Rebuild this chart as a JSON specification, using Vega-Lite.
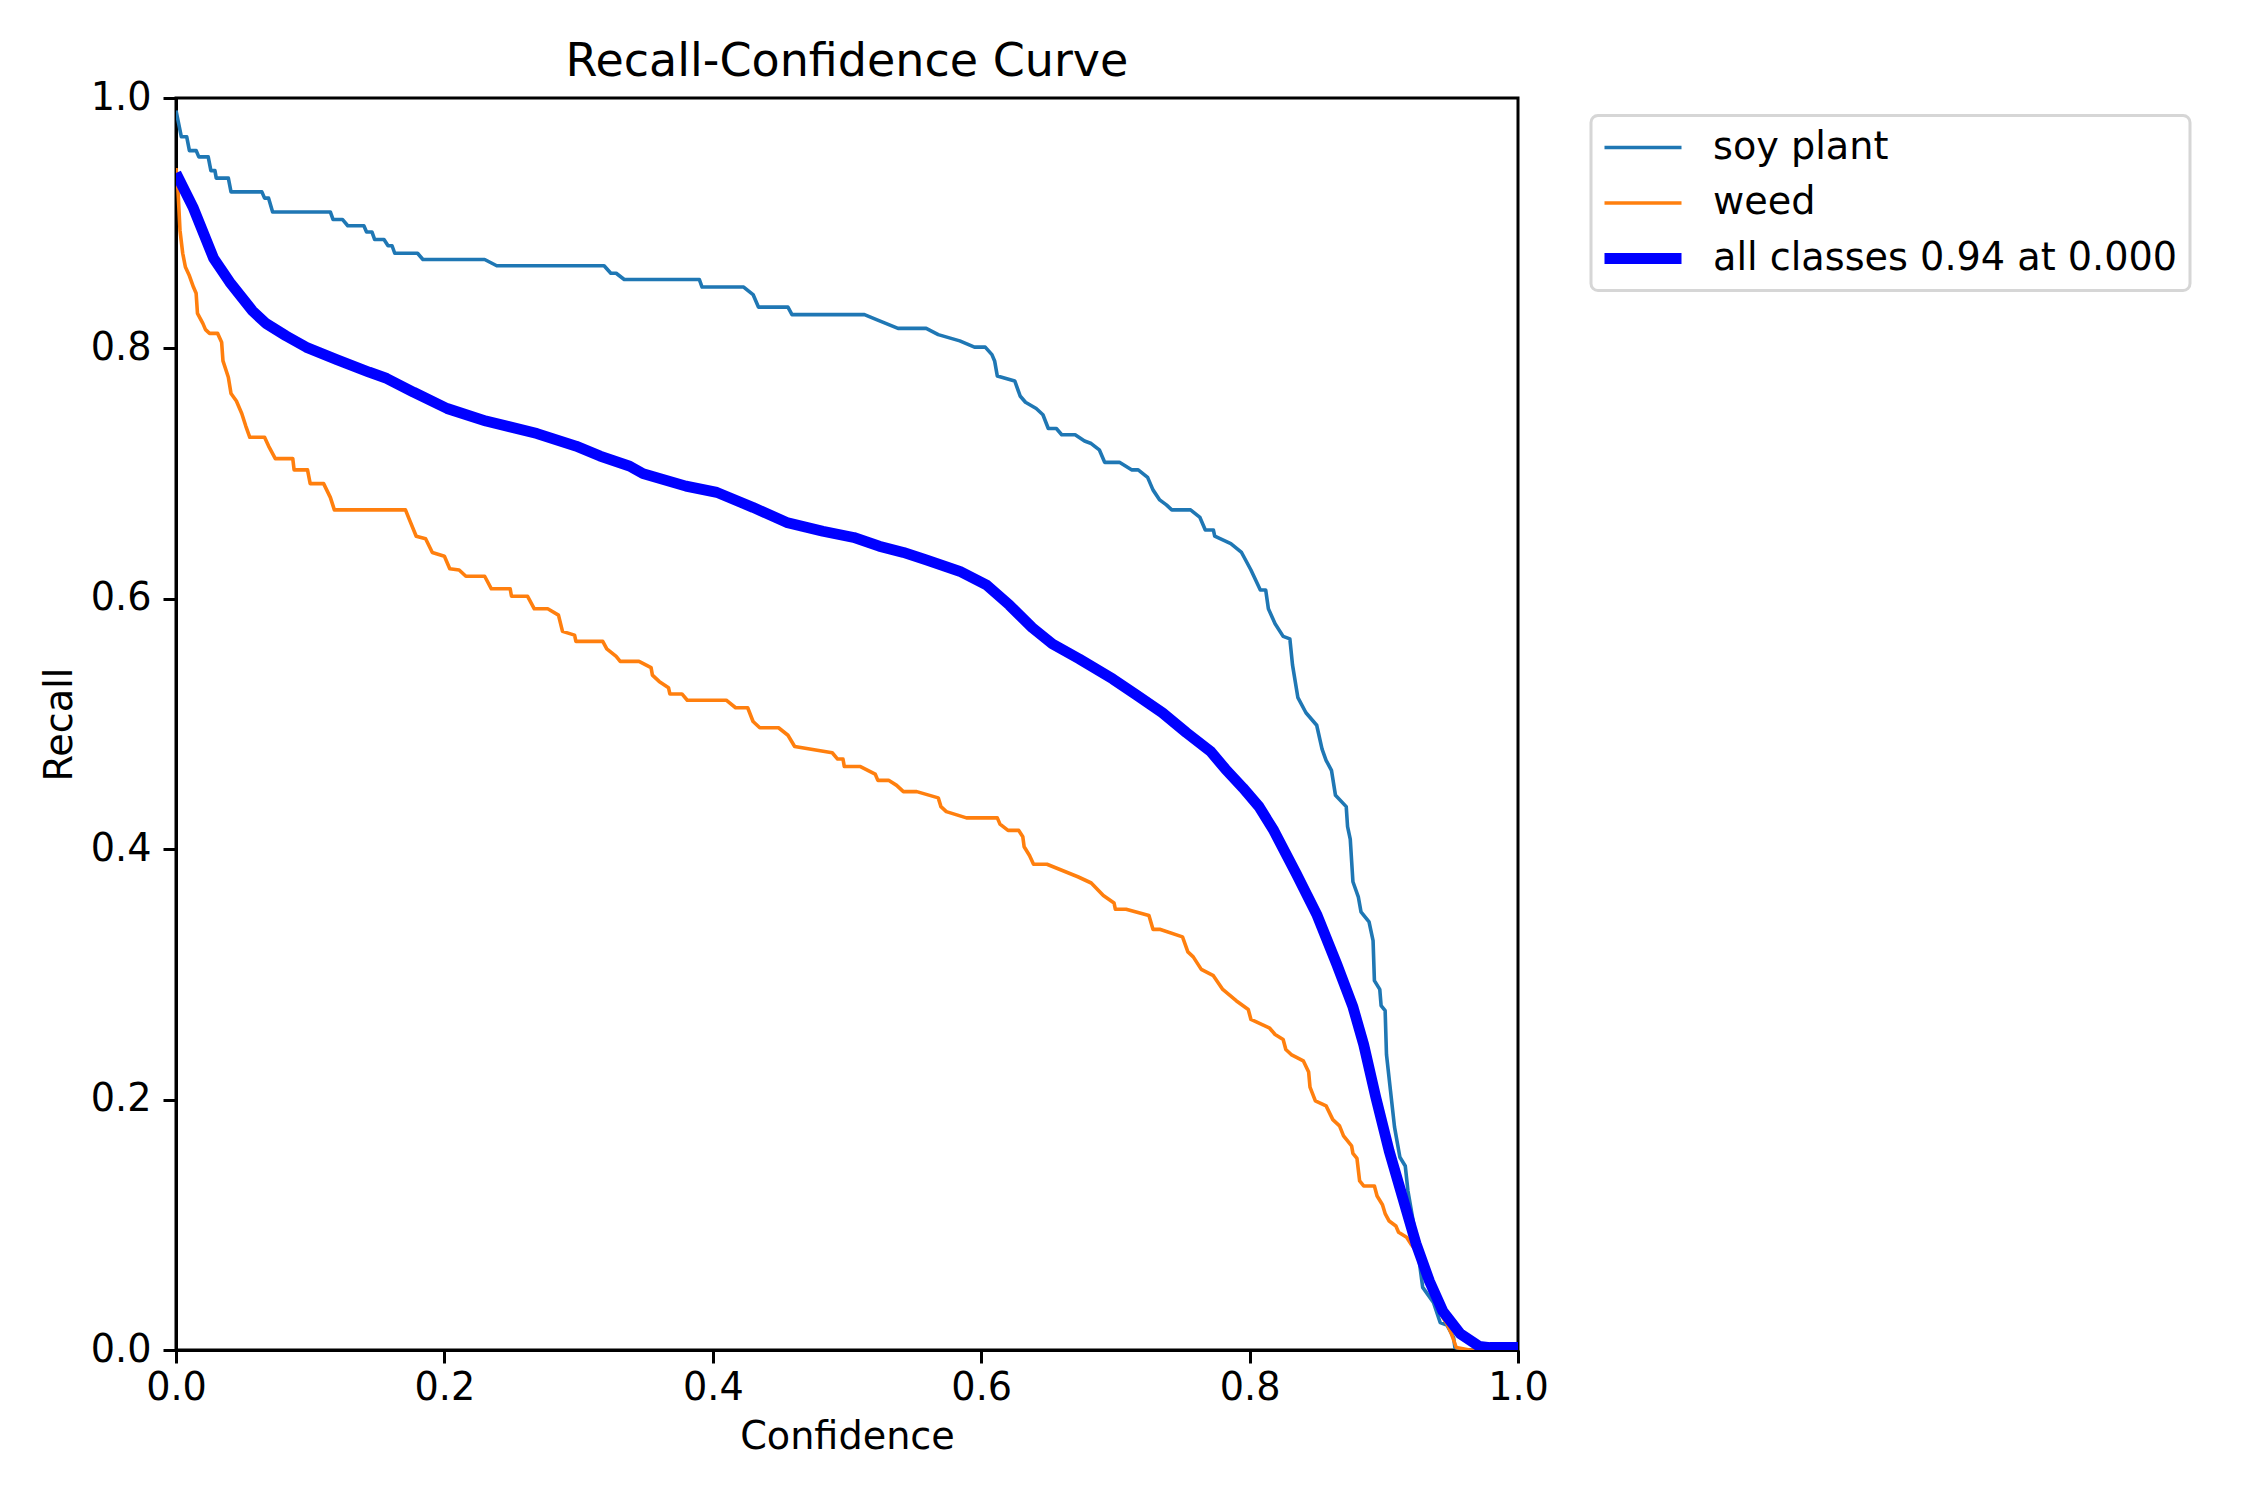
{
  "$schema": "https://vega.github.io/schema/vega-lite/v6.json",
  "width": 1342,
  "height": 1252,
  "autosize": {"type": "none"},
  "padding": {"left": 176, "top": 98, "right": 732, "bottom": 150},
  "background": "white",
  "title": {
    "text": "Recall-Confidence Curve",
    "font": "DejaVu Sans",
    "fontSize": 46,
    "fontWeight": "normal",
    "color": "black",
    "anchor": "middle",
    "baseline": "alphabetic",
    "offset": -44
  },
  "datasets": {
    "curves": [
      {"class": "soy plant", "conf": 0.000, "recall": 0.990},
      {"class": "soy plant", "conf": 0.004, "recall": 0.969},
      {"class": "soy plant", "conf": 0.008, "recall": 0.969},
      {"class": "soy plant", "conf": 0.010, "recall": 0.958},
      {"class": "soy plant", "conf": 0.015, "recall": 0.958},
      {"class": "soy plant", "conf": 0.017, "recall": 0.953},
      {"class": "soy plant", "conf": 0.024, "recall": 0.953},
      {"class": "soy plant", "conf": 0.026, "recall": 0.942},
      {"class": "soy plant", "conf": 0.029, "recall": 0.942},
      {"class": "soy plant", "conf": 0.030, "recall": 0.936},
      {"class": "soy plant", "conf": 0.039, "recall": 0.936},
      {"class": "soy plant", "conf": 0.041, "recall": 0.925},
      {"class": "soy plant", "conf": 0.064, "recall": 0.925},
      {"class": "soy plant", "conf": 0.066, "recall": 0.920},
      {"class": "soy plant", "conf": 0.069, "recall": 0.920},
      {"class": "soy plant", "conf": 0.072, "recall": 0.909},
      {"class": "soy plant", "conf": 0.115, "recall": 0.909},
      {"class": "soy plant", "conf": 0.117, "recall": 0.903},
      {"class": "soy plant", "conf": 0.124, "recall": 0.903},
      {"class": "soy plant", "conf": 0.128, "recall": 0.898},
      {"class": "soy plant", "conf": 0.140, "recall": 0.898},
      {"class": "soy plant", "conf": 0.142, "recall": 0.893},
      {"class": "soy plant", "conf": 0.146, "recall": 0.893},
      {"class": "soy plant", "conf": 0.148, "recall": 0.887},
      {"class": "soy plant", "conf": 0.155, "recall": 0.887},
      {"class": "soy plant", "conf": 0.158, "recall": 0.882},
      {"class": "soy plant", "conf": 0.161, "recall": 0.882},
      {"class": "soy plant", "conf": 0.163, "recall": 0.876},
      {"class": "soy plant", "conf": 0.180, "recall": 0.876},
      {"class": "soy plant", "conf": 0.184, "recall": 0.871},
      {"class": "soy plant", "conf": 0.230, "recall": 0.871},
      {"class": "soy plant", "conf": 0.239, "recall": 0.866},
      {"class": "soy plant", "conf": 0.319, "recall": 0.866},
      {"class": "soy plant", "conf": 0.324, "recall": 0.860},
      {"class": "soy plant", "conf": 0.328, "recall": 0.860},
      {"class": "soy plant", "conf": 0.334, "recall": 0.855},
      {"class": "soy plant", "conf": 0.390, "recall": 0.855},
      {"class": "soy plant", "conf": 0.392, "recall": 0.849},
      {"class": "soy plant", "conf": 0.423, "recall": 0.849},
      {"class": "soy plant", "conf": 0.430, "recall": 0.843},
      {"class": "soy plant", "conf": 0.434, "recall": 0.833},
      {"class": "soy plant", "conf": 0.456, "recall": 0.833},
      {"class": "soy plant", "conf": 0.459, "recall": 0.827},
      {"class": "soy plant", "conf": 0.513, "recall": 0.827},
      {"class": "soy plant", "conf": 0.522, "recall": 0.823},
      {"class": "soy plant", "conf": 0.538, "recall": 0.816},
      {"class": "soy plant", "conf": 0.559, "recall": 0.816},
      {"class": "soy plant", "conf": 0.568, "recall": 0.811},
      {"class": "soy plant", "conf": 0.584, "recall": 0.806},
      {"class": "soy plant", "conf": 0.595, "recall": 0.801},
      {"class": "soy plant", "conf": 0.603, "recall": 0.801},
      {"class": "soy plant", "conf": 0.608, "recall": 0.795},
      {"class": "soy plant", "conf": 0.610, "recall": 0.790},
      {"class": "soy plant", "conf": 0.612, "recall": 0.778},
      {"class": "soy plant", "conf": 0.625, "recall": 0.774},
      {"class": "soy plant", "conf": 0.629, "recall": 0.762},
      {"class": "soy plant", "conf": 0.633, "recall": 0.757},
      {"class": "soy plant", "conf": 0.641, "recall": 0.752},
      {"class": "soy plant", "conf": 0.646, "recall": 0.747},
      {"class": "soy plant", "conf": 0.650, "recall": 0.736},
      {"class": "soy plant", "conf": 0.656, "recall": 0.736},
      {"class": "soy plant", "conf": 0.660, "recall": 0.731},
      {"class": "soy plant", "conf": 0.670, "recall": 0.731},
      {"class": "soy plant", "conf": 0.677, "recall": 0.726},
      {"class": "soy plant", "conf": 0.682, "recall": 0.724},
      {"class": "soy plant", "conf": 0.688, "recall": 0.719},
      {"class": "soy plant", "conf": 0.692, "recall": 0.709},
      {"class": "soy plant", "conf": 0.703, "recall": 0.709},
      {"class": "soy plant", "conf": 0.712, "recall": 0.703},
      {"class": "soy plant", "conf": 0.717, "recall": 0.703},
      {"class": "soy plant", "conf": 0.724, "recall": 0.697},
      {"class": "soy plant", "conf": 0.728, "recall": 0.687},
      {"class": "soy plant", "conf": 0.733, "recall": 0.679},
      {"class": "soy plant", "conf": 0.738, "recall": 0.675},
      {"class": "soy plant", "conf": 0.742, "recall": 0.671},
      {"class": "soy plant", "conf": 0.756, "recall": 0.671},
      {"class": "soy plant", "conf": 0.763, "recall": 0.665},
      {"class": "soy plant", "conf": 0.767, "recall": 0.655},
      {"class": "soy plant", "conf": 0.773, "recall": 0.655},
      {"class": "soy plant", "conf": 0.774, "recall": 0.650},
      {"class": "soy plant", "conf": 0.786, "recall": 0.644},
      {"class": "soy plant", "conf": 0.794, "recall": 0.637},
      {"class": "soy plant", "conf": 0.801, "recall": 0.623},
      {"class": "soy plant", "conf": 0.808, "recall": 0.607},
      {"class": "soy plant", "conf": 0.812, "recall": 0.607},
      {"class": "soy plant", "conf": 0.814, "recall": 0.592},
      {"class": "soy plant", "conf": 0.819, "recall": 0.580},
      {"class": "soy plant", "conf": 0.825, "recall": 0.570},
      {"class": "soy plant", "conf": 0.830, "recall": 0.568},
      {"class": "soy plant", "conf": 0.832, "recall": 0.547},
      {"class": "soy plant", "conf": 0.836, "recall": 0.521},
      {"class": "soy plant", "conf": 0.842, "recall": 0.509},
      {"class": "soy plant", "conf": 0.850, "recall": 0.499},
      {"class": "soy plant", "conf": 0.854, "recall": 0.480},
      {"class": "soy plant", "conf": 0.857, "recall": 0.471},
      {"class": "soy plant", "conf": 0.861, "recall": 0.463},
      {"class": "soy plant", "conf": 0.864, "recall": 0.443},
      {"class": "soy plant", "conf": 0.872, "recall": 0.434},
      {"class": "soy plant", "conf": 0.873, "recall": 0.418},
      {"class": "soy plant", "conf": 0.875, "recall": 0.408},
      {"class": "soy plant", "conf": 0.877, "recall": 0.374},
      {"class": "soy plant", "conf": 0.881, "recall": 0.362},
      {"class": "soy plant", "conf": 0.883, "recall": 0.350},
      {"class": "soy plant", "conf": 0.889, "recall": 0.342},
      {"class": "soy plant", "conf": 0.892, "recall": 0.327},
      {"class": "soy plant", "conf": 0.893, "recall": 0.295},
      {"class": "soy plant", "conf": 0.897, "recall": 0.288},
      {"class": "soy plant", "conf": 0.898, "recall": 0.275},
      {"class": "soy plant", "conf": 0.901, "recall": 0.271},
      {"class": "soy plant", "conf": 0.902, "recall": 0.236},
      {"class": "soy plant", "conf": 0.905, "recall": 0.207},
      {"class": "soy plant", "conf": 0.908, "recall": 0.178},
      {"class": "soy plant", "conf": 0.912, "recall": 0.154},
      {"class": "soy plant", "conf": 0.916, "recall": 0.147},
      {"class": "soy plant", "conf": 0.918, "recall": 0.127},
      {"class": "soy plant", "conf": 0.924, "recall": 0.090},
      {"class": "soy plant", "conf": 0.927, "recall": 0.066},
      {"class": "soy plant", "conf": 0.929, "recall": 0.050},
      {"class": "soy plant", "conf": 0.931, "recall": 0.047},
      {"class": "soy plant", "conf": 0.937, "recall": 0.038},
      {"class": "soy plant", "conf": 0.942, "recall": 0.022},
      {"class": "soy plant", "conf": 0.947, "recall": 0.020},
      {"class": "soy plant", "conf": 0.952, "recall": 0.010},
      {"class": "soy plant", "conf": 0.953, "recall": 0.002},
      {"class": "soy plant", "conf": 0.960, "recall": 0.000},
      {"class": "soy plant", "conf": 1.000, "recall": 0.000},
      {"class": "weed", "conf": 0.000, "recall": 0.944},
      {"class": "weed", "conf": 0.0015, "recall": 0.926},
      {"class": "weed", "conf": 0.003, "recall": 0.894},
      {"class": "weed", "conf": 0.005, "recall": 0.876},
      {"class": "weed", "conf": 0.007, "recall": 0.865},
      {"class": "weed", "conf": 0.010, "recall": 0.858},
      {"class": "weed", "conf": 0.013, "recall": 0.849},
      {"class": "weed", "conf": 0.015, "recall": 0.844},
      {"class": "weed", "conf": 0.016, "recall": 0.828},
      {"class": "weed", "conf": 0.020, "recall": 0.820},
      {"class": "weed", "conf": 0.022, "recall": 0.815},
      {"class": "weed", "conf": 0.025, "recall": 0.812},
      {"class": "weed", "conf": 0.031, "recall": 0.812},
      {"class": "weed", "conf": 0.034, "recall": 0.805},
      {"class": "weed", "conf": 0.035, "recall": 0.790},
      {"class": "weed", "conf": 0.039, "recall": 0.777},
      {"class": "weed", "conf": 0.041, "recall": 0.764},
      {"class": "weed", "conf": 0.045, "recall": 0.758},
      {"class": "weed", "conf": 0.049, "recall": 0.748},
      {"class": "weed", "conf": 0.052, "recall": 0.738},
      {"class": "weed", "conf": 0.055, "recall": 0.729},
      {"class": "weed", "conf": 0.066, "recall": 0.729},
      {"class": "weed", "conf": 0.069, "recall": 0.722},
      {"class": "weed", "conf": 0.074, "recall": 0.712},
      {"class": "weed", "conf": 0.087, "recall": 0.712},
      {"class": "weed", "conf": 0.088, "recall": 0.703},
      {"class": "weed", "conf": 0.098, "recall": 0.703},
      {"class": "weed", "conf": 0.100, "recall": 0.692},
      {"class": "weed", "conf": 0.110, "recall": 0.692},
      {"class": "weed", "conf": 0.115, "recall": 0.681},
      {"class": "weed", "conf": 0.118, "recall": 0.671},
      {"class": "weed", "conf": 0.171, "recall": 0.671},
      {"class": "weed", "conf": 0.174, "recall": 0.663},
      {"class": "weed", "conf": 0.179, "recall": 0.650},
      {"class": "weed", "conf": 0.186, "recall": 0.648},
      {"class": "weed", "conf": 0.191, "recall": 0.637},
      {"class": "weed", "conf": 0.200, "recall": 0.634},
      {"class": "weed", "conf": 0.204, "recall": 0.624},
      {"class": "weed", "conf": 0.211, "recall": 0.623},
      {"class": "weed", "conf": 0.216, "recall": 0.618},
      {"class": "weed", "conf": 0.230, "recall": 0.618},
      {"class": "weed", "conf": 0.235, "recall": 0.608},
      {"class": "weed", "conf": 0.249, "recall": 0.608},
      {"class": "weed", "conf": 0.250, "recall": 0.602},
      {"class": "weed", "conf": 0.262, "recall": 0.602},
      {"class": "weed", "conf": 0.267, "recall": 0.592},
      {"class": "weed", "conf": 0.277, "recall": 0.592},
      {"class": "weed", "conf": 0.285, "recall": 0.587},
      {"class": "weed", "conf": 0.288, "recall": 0.574},
      {"class": "weed", "conf": 0.297, "recall": 0.571},
      {"class": "weed", "conf": 0.298, "recall": 0.566},
      {"class": "weed", "conf": 0.318, "recall": 0.566},
      {"class": "weed", "conf": 0.321, "recall": 0.560},
      {"class": "weed", "conf": 0.328, "recall": 0.554},
      {"class": "weed", "conf": 0.331, "recall": 0.550},
      {"class": "weed", "conf": 0.345, "recall": 0.550},
      {"class": "weed", "conf": 0.354, "recall": 0.545},
      {"class": "weed", "conf": 0.355, "recall": 0.539},
      {"class": "weed", "conf": 0.360, "recall": 0.534},
      {"class": "weed", "conf": 0.367, "recall": 0.529},
      {"class": "weed", "conf": 0.368, "recall": 0.524},
      {"class": "weed", "conf": 0.377, "recall": 0.524},
      {"class": "weed", "conf": 0.381, "recall": 0.519},
      {"class": "weed", "conf": 0.410, "recall": 0.519},
      {"class": "weed", "conf": 0.417, "recall": 0.513},
      {"class": "weed", "conf": 0.426, "recall": 0.513},
      {"class": "weed", "conf": 0.430, "recall": 0.502},
      {"class": "weed", "conf": 0.435, "recall": 0.497},
      {"class": "weed", "conf": 0.449, "recall": 0.497},
      {"class": "weed", "conf": 0.456, "recall": 0.491},
      {"class": "weed", "conf": 0.461, "recall": 0.482},
      {"class": "weed", "conf": 0.489, "recall": 0.477},
      {"class": "weed", "conf": 0.493, "recall": 0.472},
      {"class": "weed", "conf": 0.497, "recall": 0.472},
      {"class": "weed", "conf": 0.498, "recall": 0.466},
      {"class": "weed", "conf": 0.510, "recall": 0.466},
      {"class": "weed", "conf": 0.521, "recall": 0.460},
      {"class": "weed", "conf": 0.523, "recall": 0.455},
      {"class": "weed", "conf": 0.531, "recall": 0.455},
      {"class": "weed", "conf": 0.537, "recall": 0.451},
      {"class": "weed", "conf": 0.542, "recall": 0.446},
      {"class": "weed", "conf": 0.552, "recall": 0.446},
      {"class": "weed", "conf": 0.568, "recall": 0.441},
      {"class": "weed", "conf": 0.570, "recall": 0.434},
      {"class": "weed", "conf": 0.574, "recall": 0.430},
      {"class": "weed", "conf": 0.589, "recall": 0.425},
      {"class": "weed", "conf": 0.612, "recall": 0.425},
      {"class": "weed", "conf": 0.614, "recall": 0.420},
      {"class": "weed", "conf": 0.620, "recall": 0.415},
      {"class": "weed", "conf": 0.628, "recall": 0.415},
      {"class": "weed", "conf": 0.631, "recall": 0.410},
      {"class": "weed", "conf": 0.632, "recall": 0.402},
      {"class": "weed", "conf": 0.636, "recall": 0.395},
      {"class": "weed", "conf": 0.639, "recall": 0.388},
      {"class": "weed", "conf": 0.649, "recall": 0.388},
      {"class": "weed", "conf": 0.672, "recall": 0.378},
      {"class": "weed", "conf": 0.682, "recall": 0.373},
      {"class": "weed", "conf": 0.691, "recall": 0.363},
      {"class": "weed", "conf": 0.699, "recall": 0.357},
      {"class": "weed", "conf": 0.700, "recall": 0.352},
      {"class": "weed", "conf": 0.708, "recall": 0.352},
      {"class": "weed", "conf": 0.725, "recall": 0.347},
      {"class": "weed", "conf": 0.728, "recall": 0.336},
      {"class": "weed", "conf": 0.733, "recall": 0.336},
      {"class": "weed", "conf": 0.750, "recall": 0.330},
      {"class": "weed", "conf": 0.754, "recall": 0.318},
      {"class": "weed", "conf": 0.758, "recall": 0.314},
      {"class": "weed", "conf": 0.764, "recall": 0.304},
      {"class": "weed", "conf": 0.773, "recall": 0.299},
      {"class": "weed", "conf": 0.780, "recall": 0.288},
      {"class": "weed", "conf": 0.790, "recall": 0.279},
      {"class": "weed", "conf": 0.799, "recall": 0.272},
      {"class": "weed", "conf": 0.801, "recall": 0.264},
      {"class": "weed", "conf": 0.805, "recall": 0.262},
      {"class": "weed", "conf": 0.815, "recall": 0.257},
      {"class": "weed", "conf": 0.819, "recall": 0.252},
      {"class": "weed", "conf": 0.825, "recall": 0.248},
      {"class": "weed", "conf": 0.827, "recall": 0.240},
      {"class": "weed", "conf": 0.831, "recall": 0.236},
      {"class": "weed", "conf": 0.840, "recall": 0.231},
      {"class": "weed", "conf": 0.844, "recall": 0.222},
      {"class": "weed", "conf": 0.845, "recall": 0.210},
      {"class": "weed", "conf": 0.849, "recall": 0.199},
      {"class": "weed", "conf": 0.857, "recall": 0.195},
      {"class": "weed", "conf": 0.862, "recall": 0.184},
      {"class": "weed", "conf": 0.867, "recall": 0.179},
      {"class": "weed", "conf": 0.870, "recall": 0.171},
      {"class": "weed", "conf": 0.876, "recall": 0.163},
      {"class": "weed", "conf": 0.877, "recall": 0.157},
      {"class": "weed", "conf": 0.880, "recall": 0.153},
      {"class": "weed", "conf": 0.882, "recall": 0.135},
      {"class": "weed", "conf": 0.885, "recall": 0.131},
      {"class": "weed", "conf": 0.893, "recall": 0.131},
      {"class": "weed", "conf": 0.895, "recall": 0.123},
      {"class": "weed", "conf": 0.899, "recall": 0.116},
      {"class": "weed", "conf": 0.901, "recall": 0.109},
      {"class": "weed", "conf": 0.904, "recall": 0.103},
      {"class": "weed", "conf": 0.909, "recall": 0.099},
      {"class": "weed", "conf": 0.911, "recall": 0.094},
      {"class": "weed", "conf": 0.917, "recall": 0.090},
      {"class": "weed", "conf": 0.920, "recall": 0.085},
      {"class": "weed", "conf": 0.925, "recall": 0.078},
      {"class": "weed", "conf": 0.935, "recall": 0.050},
      {"class": "weed", "conf": 0.944, "recall": 0.026},
      {"class": "weed", "conf": 0.947, "recall": 0.021},
      {"class": "weed", "conf": 0.950, "recall": 0.014},
      {"class": "weed", "conf": 0.954, "recall": 0.002},
      {"class": "weed", "conf": 0.964, "recall": 0.000},
      {"class": "weed", "conf": 1.000, "recall": 0.000},
      {"class": "all classes 0.94 at 0.000", "conf": 0.000, "recall": 0.940},
      {"class": "all classes 0.94 at 0.000", "conf": 0.013, "recall": 0.912},
      {"class": "all classes 0.94 at 0.000", "conf": 0.028, "recall": 0.872},
      {"class": "all classes 0.94 at 0.000", "conf": 0.040, "recall": 0.853},
      {"class": "all classes 0.94 at 0.000", "conf": 0.057, "recall": 0.830},
      {"class": "all classes 0.94 at 0.000", "conf": 0.067, "recall": 0.820},
      {"class": "all classes 0.94 at 0.000", "conf": 0.082, "recall": 0.810},
      {"class": "all classes 0.94 at 0.000", "conf": 0.097, "recall": 0.801},
      {"class": "all classes 0.94 at 0.000", "conf": 0.120, "recall": 0.791},
      {"class": "all classes 0.94 at 0.000", "conf": 0.144, "recall": 0.781},
      {"class": "all classes 0.94 at 0.000", "conf": 0.157, "recall": 0.776},
      {"class": "all classes 0.94 at 0.000", "conf": 0.177, "recall": 0.765},
      {"class": "all classes 0.94 at 0.000", "conf": 0.202, "recall": 0.752},
      {"class": "all classes 0.94 at 0.000", "conf": 0.231, "recall": 0.742},
      {"class": "all classes 0.94 at 0.000", "conf": 0.269, "recall": 0.732},
      {"class": "all classes 0.94 at 0.000", "conf": 0.298, "recall": 0.722},
      {"class": "all classes 0.94 at 0.000", "conf": 0.316, "recall": 0.714},
      {"class": "all classes 0.94 at 0.000", "conf": 0.338, "recall": 0.706},
      {"class": "all classes 0.94 at 0.000", "conf": 0.348, "recall": 0.700},
      {"class": "all classes 0.94 at 0.000", "conf": 0.380, "recall": 0.690},
      {"class": "all classes 0.94 at 0.000", "conf": 0.403, "recall": 0.685},
      {"class": "all classes 0.94 at 0.000", "conf": 0.430, "recall": 0.673},
      {"class": "all classes 0.94 at 0.000", "conf": 0.455, "recall": 0.661},
      {"class": "all classes 0.94 at 0.000", "conf": 0.482, "recall": 0.654},
      {"class": "all classes 0.94 at 0.000", "conf": 0.505, "recall": 0.649},
      {"class": "all classes 0.94 at 0.000", "conf": 0.524, "recall": 0.642},
      {"class": "all classes 0.94 at 0.000", "conf": 0.542, "recall": 0.637},
      {"class": "all classes 0.94 at 0.000", "conf": 0.559, "recall": 0.631},
      {"class": "all classes 0.94 at 0.000", "conf": 0.584, "recall": 0.622},
      {"class": "all classes 0.94 at 0.000", "conf": 0.604, "recall": 0.611},
      {"class": "all classes 0.94 at 0.000", "conf": 0.621, "recall": 0.595},
      {"class": "all classes 0.94 at 0.000", "conf": 0.638, "recall": 0.577},
      {"class": "all classes 0.94 at 0.000", "conf": 0.653, "recall": 0.564},
      {"class": "all classes 0.94 at 0.000", "conf": 0.673, "recall": 0.552},
      {"class": "all classes 0.94 at 0.000", "conf": 0.698, "recall": 0.536},
      {"class": "all classes 0.94 at 0.000", "conf": 0.716, "recall": 0.523},
      {"class": "all classes 0.94 at 0.000", "conf": 0.735, "recall": 0.509},
      {"class": "all classes 0.94 at 0.000", "conf": 0.753, "recall": 0.493},
      {"class": "all classes 0.94 at 0.000", "conf": 0.771, "recall": 0.478},
      {"class": "all classes 0.94 at 0.000", "conf": 0.782, "recall": 0.464},
      {"class": "all classes 0.94 at 0.000", "conf": 0.795, "recall": 0.449},
      {"class": "all classes 0.94 at 0.000", "conf": 0.807, "recall": 0.434},
      {"class": "all classes 0.94 at 0.000", "conf": 0.818, "recall": 0.415},
      {"class": "all classes 0.94 at 0.000", "conf": 0.835, "recall": 0.380},
      {"class": "all classes 0.94 at 0.000", "conf": 0.850, "recall": 0.348},
      {"class": "all classes 0.94 at 0.000", "conf": 0.865, "recall": 0.308},
      {"class": "all classes 0.94 at 0.000", "conf": 0.877, "recall": 0.274},
      {"class": "all classes 0.94 at 0.000", "conf": 0.885, "recall": 0.244},
      {"class": "all classes 0.94 at 0.000", "conf": 0.894, "recall": 0.202},
      {"class": "all classes 0.94 at 0.000", "conf": 0.904, "recall": 0.159},
      {"class": "all classes 0.94 at 0.000", "conf": 0.914, "recall": 0.122},
      {"class": "all classes 0.94 at 0.000", "conf": 0.924, "recall": 0.085},
      {"class": "all classes 0.94 at 0.000", "conf": 0.934, "recall": 0.055},
      {"class": "all classes 0.94 at 0.000", "conf": 0.944, "recall": 0.031},
      {"class": "all classes 0.94 at 0.000", "conf": 0.957, "recall": 0.013},
      {"class": "all classes 0.94 at 0.000", "conf": 0.971, "recall": 0.003},
      {"class": "all classes 0.94 at 0.000", "conf": 0.979, "recall": 0.002},
      {"class": "all classes 0.94 at 0.000", "conf": 1.000, "recall": 0.002}
    ]
  },
  "data": {"name": "curves"},
  "mark": {"type": "line", "clip": true, "strokeJoin": "round"},
  "encoding": {
    "x": {
      "field": "conf",
      "type": "quantitative",
      "title": "Confidence",
      "scale": {"domain": [0, 1], "nice": false, "zero": false},
      "axis": {"values": [0, 0.2, 0.4, 0.6, 0.8, 1.0], "format": ".1f", "labelPadding": 6, "titlePadding": 12}
    },
    "y": {
      "field": "recall",
      "type": "quantitative",
      "title": "Recall",
      "scale": {"domain": [0, 1], "nice": false, "zero": false},
      "axis": {"values": [0, 0.2, 0.4, 0.6, 0.8, 1.0], "format": ".1f", "titlePadding": 11}
    },
    "color": {
      "field": "class",
      "type": "nominal",
      "sort": null,
      "scale": {
        "domain": ["soy plant", "weed", "all classes 0.94 at 0.000"],
        "range": ["#1f77b4", "#ff7f0e", "#0000ff"]
      },
      "legend": {
        "title": null,
        "orient": "none",
        "legendX": 1415,
        "legendY": 17.5,
        "symbolType": "stroke",
        "symbolSize": 5929,
        "symbolOffset": -4,
        "labelFont": "DejaVu Sans",
        "labelFontSize": 38.2,
        "labelColor": "black",
        "labelLimit": 0,
        "labelOffset": 26,
        "padding": 12,
        "clipHeight": 40,
        "rowPadding": 15.5,
        "strokeColor": "#d6d6d6",
        "fillColor": "white",
        "cornerRadius": 7
      }
    },
    "strokeWidth": {
      "field": "class",
      "type": "nominal",
      "sort": null,
      "scale": {
        "type": "ordinal",
        "domain": ["soy plant", "weed", "all classes 0.94 at 0.000"],
        "range": [3.6, 3.6, 10.8]
      }
    },
    "order": {"field": "conf", "type": "quantitative"}
  },
  "config": {
    "view": {"stroke": "black", "strokeWidth": 3},
    "axis": {
      "grid": false,
      "domainColor": "black",
      "domainWidth": 3,
      "tickColor": "black",
      "tickWidth": 3,
      "tickSize": 13,
      "labelFont": "DejaVu Sans",
      "labelFontSize": 38.2,
      "labelColor": "black",
      "labelPadding": 12,
      "labelFlush": false,
      "labelOverlap": false,
      "titleFont": "DejaVu Sans",
      "titleFontSize": 38.2,
      "titleFontWeight": "normal",
      "titleColor": "black"
    },
    "legend": {"strokeWidth": 3}
  }
}
